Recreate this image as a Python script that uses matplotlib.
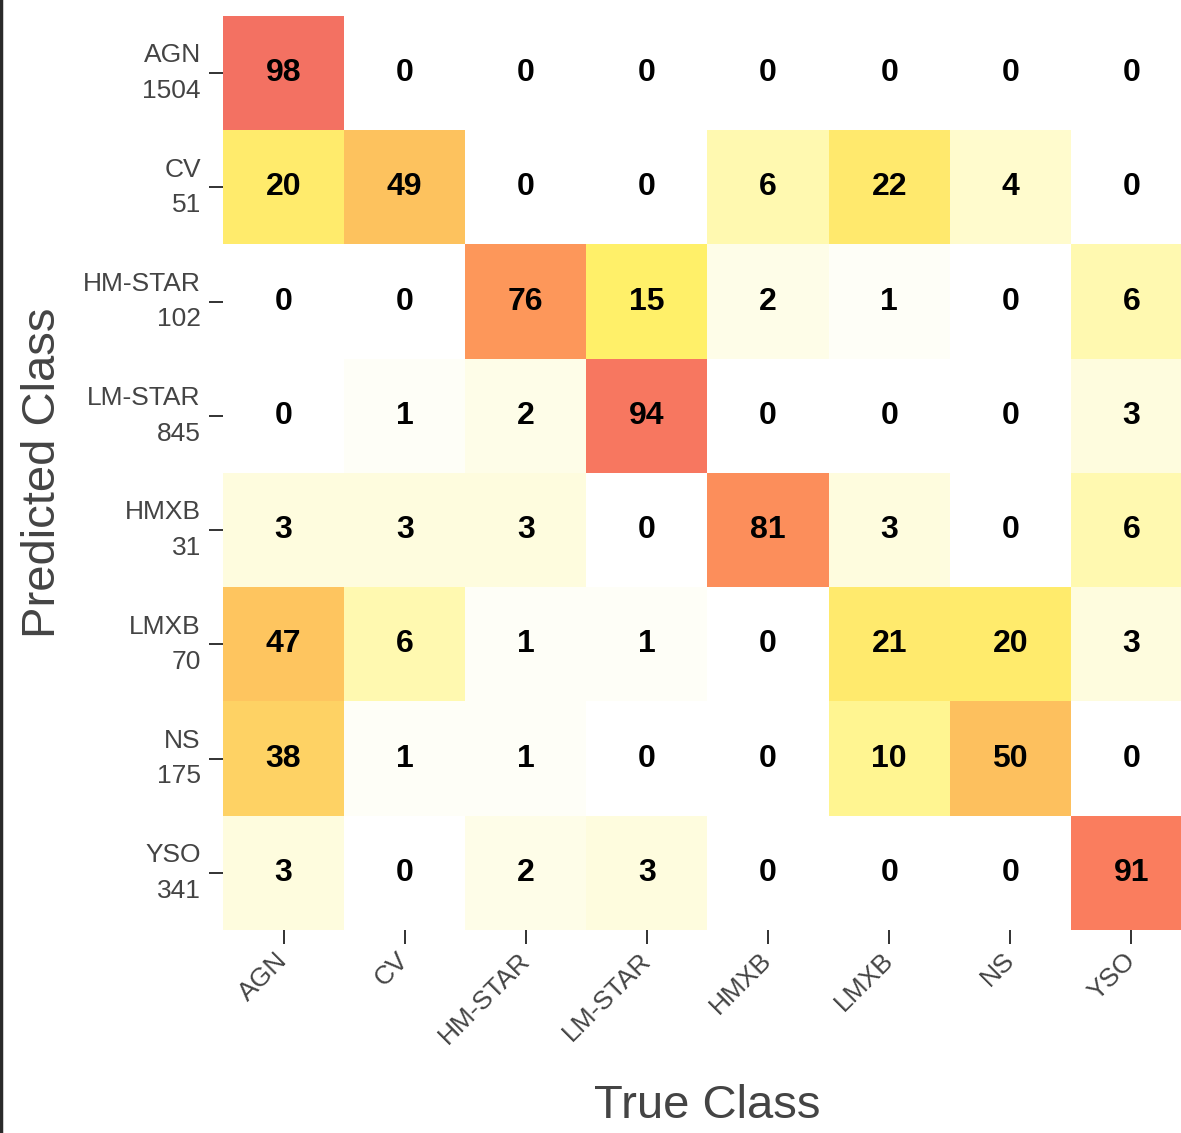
import matplotlib

matplotlib.use("Agg")
import matplotlib.pyplot as plt
from matplotlib.colors import LinearSegmentedColormap
from matplotlib.lines import Line2D
from matplotlib.transforms import ScaledTranslation
import numpy as np

CLASSES = ["AGN", "CV", "HM-STAR", "LM-STAR", "HMXB", "LMXB", "NS", "YSO"]
COUNTS = [1504, 51, 102, 845, 31, 70, 175, 341]

# row = predicted class, column = true class, values in percent
ROW_AGN = [98, 0, 0, 0, 0, 0, 0, 0]
ROW_CV = [20, 49, 0, 0, 6, 22, 4, 0]
ROW_HM_STAR = [0, 0, 76, 15, 2, 1, 0, 6]
ROW_LM_STAR = [0, 1, 2, 94, 0, 0, 0, 3]
ROW_HMXB = [3, 3, 3, 0, 81, 3, 0, 6]
ROW_LMXB = [47, 6, 1, 1, 0, 21, 20, 3]
ROW_NS = [38, 1, 1, 0, 0, 10, 50, 0]
ROW_YSO = [3, 0, 2, 3, 0, 0, 0, 91]

matrix = np.array([ROW_AGN, ROW_CV, ROW_HM_STAR, ROW_LM_STAR,
                   ROW_HMXB, ROW_LMXB, ROW_NS, ROW_YSO])

# soft white -> yellow -> orange -> salmon ramp
cmap = LinearSegmentedColormap.from_list("soft_ylorrd", [
    (0.00, "#ffffff"),
    (0.01, "#fefef5"),
    (0.03, "#fffcdb"),
    (0.06, "#fff9af"),
    (0.15, "#fff069"),
    (0.22, "#ffe96e"),
    (0.48, "#fec45f"),
    (0.78, "#fd945a"),
    (0.91, "#fa7d5f"),
    (1.00, "#f26e64"),
])

plt.rcParams["font.family"] = ["Liberation Sans", "DejaVu Sans"]

W, H = 1181, 1133
fig = plt.figure(figsize=(W / 100, H / 100), dpi=100)
ax = fig.add_axes([223 / W, (H - 930) / H, 969 / W, 914 / H])

ax.imshow(matrix, cmap=cmap, vmin=0, vmax=100, aspect="auto",
          interpolation="nearest")

for i in range(matrix.shape[0]):
    for j in range(matrix.shape[1]):
        ax.text(j, i, f"{matrix[i, j]}", ha="center", va="center",
                fontsize=23, fontweight="bold", color="black")

for s in ax.spines.values():
    s.set_visible(False)

ax.set_xticks(range(len(CLASSES)))
ax.set_xticklabels(CLASSES, rotation=45, ha="right", va="center",
                   rotation_mode="anchor", fontsize=19, color="#444444")
ax.set_yticks(range(len(CLASSES)))
ax.set_yticklabels([f"{c}\n{n}" for c, n in zip(CLASSES, COUNTS)],
                   fontsize=19, color="#444444", linespacing=1.6, va="center")
# nudge the two-line row labels a little below the tick
shift = ScaledTranslation(0, -3.5 / 100, fig.dpi_scale_trans)
for lab in ax.get_yticklabels():
    lab.set_transform(lab.get_transform() + shift)

ax.tick_params(axis="both", length=10, width=1.3, color="#222222")
ax.tick_params(axis="x", pad=9)
ax.tick_params(axis="y", pad=6)

ax.set_xlabel("True Class", fontsize=34, color="#444444", labelpad=26)
ax.set_ylabel("Predicted Class", fontsize=34, color="#444444", labelpad=13)

# dark frame edge on the left
fig.add_artist(Line2D([1.5 / W, 1.5 / W], [0, 1], transform=fig.transFigure,
                      color="#2a2a2a", linewidth=2.5))

fig.savefig("out.png", dpi=100)
